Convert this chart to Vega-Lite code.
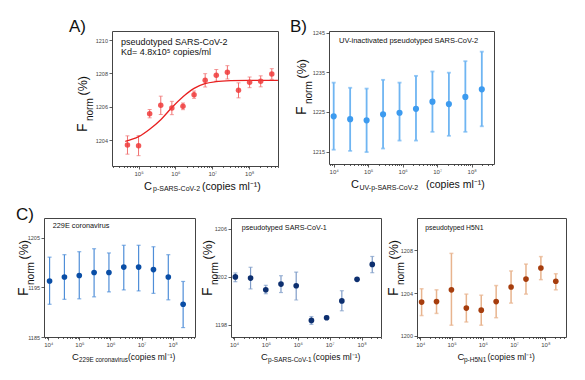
{
"$schema": "https://vega.github.io/schema/vega-lite/v6.json",
"background": "white",
"autosize": {"type": "pad"},
"padding": {"left": 15, "top": 17, "right": 0, "bottom": 0},
"spacing": 12,
"config": {
  "font": "Liberation Sans",
  "view": {"stroke": "#444", "strokeWidth": 1},
  "axis": {"grid": false, "domain": false, "tickColor": "#333", "tickWidth": 0.8, "tickSize": 3, "labelColor": "#444", "labelFontSize": 5.5, "labelPadding": 1.5, "labelOverlap": false, "labelFlush": false, "labelBound": false},
  "axisX": {"labelFontSize": 6},
  "text": {"font": "Liberation Sans", "color": "#111"}
},
"vconcat": [
{
 "hconcat": [
  {"width": 17, "height": 135, "view": {"stroke": null}, "data": {"values": [{}]}, "mark": {"type": "text"}, "encoding": {"text": {"value": ""}}},
  {
   "width": 166, "height": 135,
   "data": {"values": [
    {"conc": 5e4, "f": 1203.7, "lo": 1203.15, "hi": 1204.25},
    {"conc": 1e5, "f": 1203.66, "lo": 1203.06, "hi": 1204.26},
    {"conc": 2e5, "f": 1205.58, "lo": 1205.33, "hi": 1205.83},
    {"conc": 4e5, "f": 1206.08, "lo": 1205.53, "hi": 1206.63},
    {"conc": 8e5, "f": 1205.92, "lo": 1205.52, "hi": 1206.32},
    {"conc": 1.6e6, "f": 1206.02, "lo": 1205.82, "hi": 1206.22},
    {"conc": 3.2e6, "f": 1206.72, "lo": 1206.5, "hi": 1206.94},
    {"conc": 6.4e6, "f": 1207.58, "lo": 1207.18, "hi": 1207.98},
    {"conc": 1.28e7, "f": 1207.88, "lo": 1207.53, "hi": 1208.23},
    {"conc": 2.56e7, "f": 1208.06, "lo": 1207.66, "hi": 1208.46},
    {"conc": 5.12e7, "f": 1206.98, "lo": 1206.53, "hi": 1207.43},
    {"conc": 1.024e8, "f": 1207.46, "lo": 1207.14, "hi": 1207.78},
    {"conc": 2.048e8, "f": 1207.52, "lo": 1207.19, "hi": 1207.85},
    {"conc": 4.096e8, "f": 1207.96, "lo": 1207.64, "hi": 1208.28}
   ]},
   "layer": [
    {"mark": {"type": "errorbar", "color": "#f07070", "thickness": 1, "ticks": {"size": 4}},
     "encoding": {
      "x": {"field": "conc", "type": "quantitative", "scale": {"type": "log", "domain": [19055, 6.03e8], "nice": false},
            "axis": {"title": null, "labelOverlap": false, "values": [2e4,3e4,4e4,5e4,6e4,7e4,8e4,9e4,1e5,2e5,3e5,4e5,5e5,6e5,7e5,8e5,9e5,1e6,2e6,3e6,4e6,5e6,6e6,7e6,8e6,9e6,1e7,2e7,3e7,4e7,5e7,6e7,7e7,8e7,9e7,1e8,2e8,3e8,4e8,5e8,6e8],
              "labelExpr": "abs(log(datum.value)/LN10 - round(log(datum.value)/LN10)) < 0.001 ? '10' + ['⁰','¹','²','³','⁴','⁵','⁶','⁷','⁸','⁹'][round(log(datum.value)/LN10)] : ''",
              "tickSize": {"condition": {"test": "abs(log(datum.value)/LN10 - round(log(datum.value)/LN10)) >= 0.001", "value": 1.5}, "value": 3}}},
      "y": {"field": "lo", "type": "quantitative", "scale": {"domain": [1202.44, 1210.54], "nice": false, "zero": false},
            "axis": {"title": null, "labelOverlap": false, "values": [1204,1206,1208,1210], "format": "d"}},
      "y2": {"field": "hi"}}},
    {"data": {"values": [
      {"conc": 43650, "f": 1203.92}, {"conc": 1e5, "f": 1204.2}, {"conc": 2e5, "f": 1204.65}, {"conc": 4e5, "f": 1205.22},
      {"conc": 8e5, "f": 1205.95}, {"conc": 1.6e6, "f": 1206.6}, {"conc": 3.2e6, "f": 1207.1}, {"conc": 6.3e6, "f": 1207.38},
      {"conc": 1.26e7, "f": 1207.5}, {"conc": 3.16e7, "f": 1207.56}, {"conc": 1e8, "f": 1207.58}, {"conc": 6e8, "f": 1207.58}]},
     "mark": {"type": "line", "interpolate": "monotone", "color": "#e82020", "strokeWidth": 1.3},
     "encoding": {"x": {"field": "conc", "type": "quantitative"}, "y": {"field": "f", "type": "quantitative"}}},
    {"mark": {"type": "point", "filled": true, "size": 30, "color": "#f03a3a", "opacity": 0.85},
     "encoding": {"x": {"field": "conc", "type": "quantitative"}, "y": {"field": "f", "type": "quantitative"}}},
    {"data": {"values": [{}]}, "mark": {"type": "text", "align": "left", "baseline": "alphabetic", "fontSize": 17}, "encoding": {"x": {"datum": 1300, "type": "quantitative"}, "y": {"datum": 1210.48, "type": "quantitative"}, "text": {"value": "A)"}}},
    {"data": {"values": [{}]}, "mark": {"type": "text", "align": "left", "baseline": "alphabetic", "fontSize": 9}, "encoding": {"x": {"datum": 33400, "type": "quantitative"}, "y": {"datum": 1209.7, "type": "quantitative"}, "text": {"value": "pseudotyped SARS-CoV-2"}}},
    {"data": {"values": [{}]}, "mark": {"type": "text", "align": "left", "baseline": "alphabetic", "fontSize": 9}, "encoding": {"x": {"datum": 33400, "type": "quantitative"}, "y": {"datum": 1209.1, "type": "quantitative"}, "text": {"value": "Kd= 4.8x10⁵ copies/ml"}}},
    {"data": {"values": [{}]}, "mark": {"type": "text", "align": "left", "baseline": "alphabetic", "fontSize": 14, "angle": 270}, "encoding": {"x": {"datum": 4000, "type": "quantitative"}, "y": {"datum": 1204.48, "type": "quantitative"}, "text": {"value": "F"}}},
    {"data": {"values": [{}]}, "mark": {"type": "text", "align": "left", "baseline": "alphabetic", "fontSize": 10, "angle": 270}, "encoding": {"x": {"datum": 5821, "type": "quantitative"}, "y": {"datum": 1205.14, "type": "quantitative"}, "text": {"value": "norm"}}},
    {"data": {"values": [{}]}, "mark": {"type": "text", "align": "left", "baseline": "alphabetic", "fontSize": 12.5, "angle": 270}, "encoding": {"x": {"datum": 4000, "type": "quantitative"}, "y": {"datum": 1206.67, "type": "quantitative"}, "text": {"value": "(%)"}}},
    {"data": {"values": [{}]}, "mark": {"type": "text", "align": "left", "baseline": "alphabetic", "fontSize": 11}, "encoding": {"x": {"datum": 140500, "type": "quantitative"}, "y": {"datum": 1201.03, "type": "quantitative"}, "text": {"value": "C"}}},
    {"data": {"values": [{}]}, "mark": {"type": "text", "align": "left", "baseline": "alphabetic", "fontSize": 7}, "encoding": {"x": {"datum": 246400, "type": "quantitative"}, "y": {"datum": 1200.94, "type": "quantitative"}, "text": {"value": "p-SARS-CoV-2"}}},
    {"data": {"values": [{}]}, "mark": {"type": "text", "align": "left", "baseline": "alphabetic", "fontSize": 10.5}, "encoding": {"x": {"datum": 5.25e6, "type": "quantitative"}, "y": {"datum": 1201.03, "type": "quantitative"}, "text": {"value": "(copies ml⁻¹)"}}}
   ]
  },
  {
   "width": 165, "height": 133,
   "data": {"values": [
    {"conc": 1e4, "f": 1223.9, "lo": 1215.5, "hi": 1232.4},
    {"conc": 3e4, "f": 1223.2, "lo": 1215.2, "hi": 1231.1},
    {"conc": 9e4, "f": 1222.9, "lo": 1214.9, "hi": 1230.9},
    {"conc": 2.7e5, "f": 1224.4, "lo": 1215.8, "hi": 1233.1},
    {"conc": 8.1e5, "f": 1224.8, "lo": 1217.8, "hi": 1232.4},
    {"conc": 2.43e6, "f": 1225.8, "lo": 1217.8, "hi": 1234.1},
    {"conc": 7.29e6, "f": 1227.6, "lo": 1220.0, "hi": 1235.2},
    {"conc": 2.187e7, "f": 1227.0, "lo": 1219.0, "hi": 1234.9},
    {"conc": 6.561e7, "f": 1228.8, "lo": 1220.0, "hi": 1237.8},
    {"conc": 1.9683e8, "f": 1230.7, "lo": 1221.4, "hi": 1240.2}
   ]},
   "layer": [
    {"mark": {"type": "errorbar", "color": "#6fb5f2", "thickness": 1.8, "ticks": {"size": 4}},
     "encoding": {
      "x": {"field": "conc", "type": "quantitative", "scale": {"type": "log", "domain": [7311, 4.44e8], "nice": false},
            "axis": {"title": null, "labelOverlap": false, "values": [8e3,9e3,1e4,2e4,3e4,4e4,5e4,6e4,7e4,8e4,9e4,1e5,2e5,3e5,4e5,5e5,6e5,7e5,8e5,9e5,1e6,2e6,3e6,4e6,5e6,6e6,7e6,8e6,9e6,1e7,2e7,3e7,4e7,5e7,6e7,7e7,8e7,9e7,1e8,2e8,3e8,4e8],
              "labelExpr": "abs(log(datum.value)/LN10 - round(log(datum.value)/LN10)) < 0.001 ? '10' + ['⁰','¹','²','³','⁴','⁵','⁶','⁷','⁸','⁹'][round(log(datum.value)/LN10)] : ''",
              "tickSize": {"condition": {"test": "abs(log(datum.value)/LN10 - round(log(datum.value)/LN10)) >= 0.001", "value": 1.5}, "value": 3}}},
      "y": {"field": "lo", "type": "quantitative", "scale": {"domain": [1211.9, 1245.4], "nice": false, "zero": false},
            "axis": {"title": null, "labelOverlap": false, "values": [1215,1220,1225,1230,1235,1240,1245], "format": "d"}},
      "y2": {"field": "hi"}}},
    {"mark": {"type": "point", "filled": true, "size": 38, "color": "#3d9bef", "opacity": 1},
     "encoding": {"x": {"field": "conc", "type": "quantitative"}, "y": {"field": "f", "type": "quantitative"}}},
    {"data": {"values": [{}]}, "mark": {"type": "text", "align": "left", "baseline": "alphabetic", "fontSize": 17}, "encoding": {"x": {"datum": 541, "type": "quantitative"}, "y": {"datum": 1245.15, "type": "quantitative"}, "text": {"value": "B)"}}},
    {"data": {"values": [{}]}, "mark": {"type": "text", "align": "left", "baseline": "alphabetic", "fontSize": 7.5}, "encoding": {"x": {"datum": 14260, "type": "quantitative"}, "y": {"datum": 1242.45, "type": "quantitative"}, "text": {"value": "UV-inactivated pseudotyped SARS-CoV-2"}}},
    {"data": {"values": [{}]}, "mark": {"type": "text", "align": "left", "baseline": "alphabetic", "fontSize": 14, "angle": 270}, "encoding": {"x": {"datum": 1574, "type": "quantitative"}, "y": {"datum": 1224.24, "type": "quantitative"}, "text": {"value": "F"}}},
    {"data": {"values": [{}]}, "mark": {"type": "text", "align": "left", "baseline": "alphabetic", "fontSize": 10, "angle": 270}, "encoding": {"x": {"datum": 2350, "type": "quantitative"}, "y": {"datum": 1227.01, "type": "quantitative"}, "text": {"value": "norm"}}},
    {"data": {"values": [{}]}, "mark": {"type": "text", "align": "left", "baseline": "alphabetic", "fontSize": 12.5, "angle": 270}, "encoding": {"x": {"datum": 1574, "type": "quantitative"}, "y": {"datum": 1233.43, "type": "quantitative"}, "text": {"value": "(%)"}}},
    {"data": {"values": [{}]}, "mark": {"type": "text", "align": "left", "baseline": "alphabetic", "fontSize": 11}, "encoding": {"x": {"datum": 31770, "type": "quantitative"}, "y": {"datum": 1205.85, "type": "quantitative"}, "text": {"value": "C"}}},
    {"data": {"values": [{}]}, "mark": {"type": "text", "align": "left", "baseline": "alphabetic", "fontSize": 7}, "encoding": {"x": {"datum": 55980, "type": "quantitative"}, "y": {"datum": 1205.35, "type": "quantitative"}, "text": {"value": "UV-p-SARS-CoV-2"}}},
    {"data": {"values": [{}]}, "mark": {"type": "text", "align": "left", "baseline": "alphabetic", "fontSize": 10.5}, "encoding": {"x": {"datum": 4.74e6, "type": "quantitative"}, "y": {"datum": 1205.85, "type": "quantitative"}, "text": {"value": "(copies ml⁻¹)"}}}
   ]
  }
 ],
 "spacing": 51,
 "bounds": "flush"
},
{
 "hconcat": [
  {
   "width": 151, "height": 119,
   "data": {"values": [
    {"conc": 1.1e4, "f": 1196.3, "lo": 1191.6, "hi": 1201.1},
    {"conc": 3.3e4, "f": 1197.1, "lo": 1192.6, "hi": 1201.6},
    {"conc": 9.9e4, "f": 1197.4, "lo": 1192.7, "hi": 1202.2},
    {"conc": 2.97e5, "f": 1198.0, "lo": 1193.1, "hi": 1202.8},
    {"conc": 8.91e5, "f": 1198.0, "lo": 1194.1, "hi": 1201.95},
    {"conc": 2.673e6, "f": 1199.1, "lo": 1194.5, "hi": 1203.5},
    {"conc": 8.019e6, "f": 1199.1, "lo": 1194.3, "hi": 1203.5},
    {"conc": 2.4057e7, "f": 1198.6, "lo": 1193.8, "hi": 1203.2},
    {"conc": 7.2171e7, "f": 1197.1, "lo": 1192.5, "hi": 1201.6},
    {"conc": 2.16513e8, "f": 1191.6, "lo": 1186.9, "hi": 1196.2}
   ]},
   "layer": [
    {"mark": {"type": "errorbar", "color": "#4f8ed8", "thickness": 1.2, "ticks": {"size": 4}},
     "encoding": {
      "x": {"field": "conc", "type": "quantitative", "scale": {"type": "log", "domain": [7278, 5.21e8], "nice": false},
            "axis": {"title": null, "labelOverlap": false, "values": [8e3,9e3,1e4,2e4,3e4,4e4,5e4,6e4,7e4,8e4,9e4,1e5,2e5,3e5,4e5,5e5,6e5,7e5,8e5,9e5,1e6,2e6,3e6,4e6,5e6,6e6,7e6,8e6,9e6,1e7,2e7,3e7,4e7,5e7,6e7,7e7,8e7,9e7,1e8,2e8,3e8,4e8,5e8],
              "labelExpr": "abs(log(datum.value)/LN10 - round(log(datum.value)/LN10)) < 0.001 ? '10' + ['⁰','¹','²','³','⁴','⁵','⁶','⁷','⁸','⁹'][round(log(datum.value)/LN10)] : ''",
              "tickSize": {"condition": {"test": "abs(log(datum.value)/LN10 - round(log(datum.value)/LN10)) >= 0.001", "value": 1.5}, "value": 3}}},
      "y": {"field": "lo", "type": "quantitative", "scale": {"domain": [1185, 1209], "nice": false, "zero": false},
            "axis": {"title": null, "labelOverlap": false, "values": [1185,1190,1195,1200,1205], "format": "d"}},
      "y2": {"field": "hi"}}},
    {"mark": {"type": "point", "filled": true, "size": 32, "color": "#0a4ea6", "opacity": 1},
     "encoding": {"x": {"field": "conc", "type": "quantitative"}, "y": {"field": "f", "type": "quantitative"}}},
    {"data": {"values": [{}]}, "mark": {"type": "text", "align": "left", "baseline": "alphabetic", "fontSize": 17}, "encoding": {"x": {"datum": 916, "type": "quantitative"}, "y": {"datum": 1208.6, "type": "quantitative"}, "text": {"value": "C)"}}},
    {"data": {"values": [{}]}, "mark": {"type": "text", "align": "left", "baseline": "alphabetic", "fontSize": 7.3}, "encoding": {"x": {"datum": 13870, "type": "quantitative"}, "y": {"datum": 1206.92, "type": "quantitative"}, "text": {"value": "229E coronavirus"}}},
    {"data": {"values": [{}]}, "mark": {"type": "text", "align": "left", "baseline": "alphabetic", "fontSize": 14, "angle": 270}, "encoding": {"x": {"datum": 2228, "type": "quantitative"}, "y": {"datum": 1193.27, "type": "quantitative"}, "text": {"value": "F"}}},
    {"data": {"values": [{}]}, "mark": {"type": "text", "align": "left", "baseline": "alphabetic", "fontSize": 10, "angle": 270}, "encoding": {"x": {"datum": 3467, "type": "quantitative"}, "y": {"datum": 1195.49, "type": "quantitative"}, "text": {"value": "norm"}}},
    {"data": {"values": [{}]}, "mark": {"type": "text", "align": "left", "baseline": "alphabetic", "fontSize": 12.5, "angle": 270}, "encoding": {"x": {"datum": 2228, "type": "quantitative"}, "y": {"datum": 1200.63, "type": "quantitative"}, "text": {"value": "(%)"}}},
    {"data": {"values": [{}]}, "mark": {"type": "text", "align": "left", "baseline": "alphabetic", "fontSize": 9.5}, "encoding": {"x": {"datum": 57810, "type": "quantitative"}, "y": {"datum": 1180.36, "type": "quantitative"}, "text": {"value": "C"}}},
    {"data": {"values": [{}]}, "mark": {"type": "text", "align": "left", "baseline": "alphabetic", "fontSize": 6.3}, "encoding": {"x": {"datum": 97100, "type": "quantitative"}, "y": {"datum": 1179.96, "type": "quantitative"}, "text": {"value": "229E coronavirus"}}},
    {"data": {"values": [{}]}, "mark": {"type": "text", "align": "left", "baseline": "alphabetic", "fontSize": 8.5}, "encoding": {"x": {"datum": 3.66e6, "type": "quantitative"}, "y": {"datum": 1180.36, "type": "quantitative"}, "text": {"value": "(copies ml⁻¹)"}}}
   ]
  },
  {
   "width": 150, "height": 119,
   "data": {"values": [
    {"conc": 1.1e4, "f": 1202.0, "lo": 1201.6, "hi": 1202.33},
    {"conc": 3.3e4, "f": 1201.9, "lo": 1201.0, "hi": 1202.8},
    {"conc": 9.9e4, "f": 1200.93, "lo": 1200.6, "hi": 1201.3},
    {"conc": 2.97e5, "f": 1201.4, "lo": 1200.7, "hi": 1202.1},
    {"conc": 8.91e5, "f": 1201.26, "lo": 1200.08, "hi": 1202.4},
    {"conc": 2.673e6, "f": 1198.38, "lo": 1198.05, "hi": 1198.7},
    {"conc": 8.019e6, "f": 1198.6, "lo": 1198.47, "hi": 1198.77},
    {"conc": 2.4057e7, "f": 1200.0, "lo": 1199.18, "hi": 1200.85},
    {"conc": 7.2171e7, "f": 1201.8, "lo": 1201.75, "hi": 1201.85},
    {"conc": 2.16513e8, "f": 1203.04, "lo": 1202.35, "hi": 1203.7}
   ]},
   "layer": [
    {"mark": {"type": "errorbar", "color": "#7f9cc8", "thickness": 1.2, "ticks": {"size": 4}},
     "encoding": {
      "x": {"field": "conc", "type": "quantitative", "scale": {"type": "log", "domain": [8035, 4.07e8], "nice": false},
            "axis": {"title": null, "labelOverlap": false, "values": [9e3,1e4,2e4,3e4,4e4,5e4,6e4,7e4,8e4,9e4,1e5,2e5,3e5,4e5,5e5,6e5,7e5,8e5,9e5,1e6,2e6,3e6,4e6,5e6,6e6,7e6,8e6,9e6,1e7,2e7,3e7,4e7,5e7,6e7,7e7,8e7,9e7,1e8,2e8,3e8,4e8],
              "labelExpr": "abs(log(datum.value)/LN10 - round(log(datum.value)/LN10)) < 0.001 ? '10' + ['⁰','¹','²','³','⁴','⁵','⁶','⁷','⁸','⁹'][round(log(datum.value)/LN10)] : ''",
              "tickSize": {"condition": {"test": "abs(log(datum.value)/LN10 - round(log(datum.value)/LN10)) >= 0.001", "value": 1.5}, "value": 3}}},
      "y": {"field": "lo", "type": "quantitative", "scale": {"domain": [1197, 1206.9], "nice": false, "zero": false},
            "axis": {"title": null, "labelOverlap": false, "values": [1198,1200,1202,1204,1206], "format": "d"}},
      "y2": {"field": "hi"}}},
    {"mark": {"type": "point", "filled": true, "size": 32, "color": "#0d2f6f", "opacity": 1},
     "encoding": {"x": {"field": "conc", "type": "quantitative"}, "y": {"field": "f", "type": "quantitative"}}},
    {"data": {"values": [{}]}, "mark": {"type": "text", "align": "left", "baseline": "alphabetic", "fontSize": 7.2}, "encoding": {"x": {"datum": 17400, "type": "quantitative"}, "y": {"datum": 1205.9, "type": "quantitative"}, "text": {"value": "pseudotyped SARS-CoV-1"}}},
    {"data": {"values": [{}]}, "mark": {"type": "text", "align": "left", "baseline": "alphabetic", "fontSize": 14, "angle": 270}, "encoding": {"x": {"datum": 2037, "type": "quantitative"}, "y": {"datum": 1200.41, "type": "quantitative"}, "text": {"value": "F"}}},
    {"data": {"values": [{}]}, "mark": {"type": "text", "align": "left", "baseline": "alphabetic", "fontSize": 10, "angle": 270}, "encoding": {"x": {"datum": 3141, "type": "quantitative"}, "y": {"datum": 1201.33, "type": "quantitative"}, "text": {"value": "norm"}}},
    {"data": {"values": [{}]}, "mark": {"type": "text", "align": "left", "baseline": "alphabetic", "fontSize": 12.5, "angle": 270}, "encoding": {"x": {"datum": 2037, "type": "quantitative"}, "y": {"datum": 1203.45, "type": "quantitative"}, "text": {"value": "(%)"}}},
    {"data": {"values": [{}]}, "mark": {"type": "text", "align": "left", "baseline": "alphabetic", "fontSize": 9.5}, "encoding": {"x": {"datum": 70150, "type": "quantitative"}, "y": {"datum": 1195.09, "type": "quantitative"}, "text": {"value": "C"}}},
    {"data": {"values": [{}]}, "mark": {"type": "text", "align": "left", "baseline": "alphabetic", "fontSize": 6.5}, "encoding": {"x": {"datum": 116400, "type": "quantitative"}, "y": {"datum": 1194.92, "type": "quantitative"}, "text": {"value": "p-SARS-CoV-1"}}},
    {"data": {"values": [{}]}, "mark": {"type": "text", "align": "left", "baseline": "alphabetic", "fontSize": 8.5}, "encoding": {"x": {"datum": 3.0e6, "type": "quantitative"}, "y": {"datum": 1195.09, "type": "quantitative"}, "text": {"value": "(copies ml⁻¹)"}}}
   ]
  },
  {
   "width": 149, "height": 119,
   "data": {"values": [
    {"conc": 1.1e4, "f": 1203.16, "lo": 1201.9, "hi": 1204.4},
    {"conc": 3.3e4, "f": 1203.2, "lo": 1202.1, "hi": 1204.3},
    {"conc": 9.9e4, "f": 1204.3, "lo": 1201.0, "hi": 1207.7},
    {"conc": 2.97e5, "f": 1202.6, "lo": 1201.3, "hi": 1203.9},
    {"conc": 8.91e5, "f": 1202.4, "lo": 1201.0, "hi": 1203.8},
    {"conc": 2.673e6, "f": 1203.2, "lo": 1201.7, "hi": 1204.7},
    {"conc": 8.019e6, "f": 1204.56, "lo": 1203.06, "hi": 1206.06},
    {"conc": 2.4057e7, "f": 1205.3, "lo": 1203.9, "hi": 1206.7},
    {"conc": 7.2171e7, "f": 1206.34, "lo": 1205.25, "hi": 1207.4},
    {"conc": 2.16513e8, "f": 1205.1, "lo": 1204.3, "hi": 1205.8}
   ]},
   "layer": [
    {"mark": {"type": "errorbar", "color": "#e8b48e", "thickness": 1.5, "ticks": {"size": 4}},
     "encoding": {
      "x": {"field": "conc", "type": "quantitative", "scale": {"type": "log", "domain": [7834, 4.59e8], "nice": false},
            "axis": {"title": null, "labelOverlap": false, "values": [8e3,9e3,1e4,2e4,3e4,4e4,5e4,6e4,7e4,8e4,9e4,1e5,2e5,3e5,4e5,5e5,6e5,7e5,8e5,9e5,1e6,2e6,3e6,4e6,5e6,6e6,7e6,8e6,9e6,1e7,2e7,3e7,4e7,5e7,6e7,7e7,8e7,9e7,1e8,2e8,3e8,4e8],
              "labelExpr": "abs(log(datum.value)/LN10 - round(log(datum.value)/LN10)) < 0.001 ? '10' + ['⁰','¹','²','³','⁴','⁵','⁶','⁷','⁸','⁹'][round(log(datum.value)/LN10)] : ''",
              "tickSize": {"condition": {"test": "abs(log(datum.value)/LN10 - round(log(datum.value)/LN10)) >= 0.001", "value": 1.5}, "value": 3}}},
      "y": {"field": "lo", "type": "quantitative", "scale": {"domain": [1199.9, 1211.0], "nice": false, "zero": false},
            "axis": {"title": null, "labelOverlap": false, "values": [1200,1202,1204,1206,1208,1210], "format": "d"}},
      "y2": {"field": "hi"}}},
    {"mark": {"type": "point", "filled": true, "size": 32, "color": "#a63d0d", "opacity": 1},
     "encoding": {"x": {"field": "conc", "type": "quantitative"}, "y": {"field": "f", "type": "quantitative"}}},
    {"data": {"values": [{}]}, "mark": {"type": "text", "align": "left", "baseline": "alphabetic", "fontSize": 6.8}, "encoding": {"x": {"datum": 14450, "type": "quantitative"}, "y": {"datum": 1209.88, "type": "quantitative"}, "text": {"value": "pseudotyped H5N1"}}},
    {"data": {"values": [{}]}, "mark": {"type": "text", "align": "left", "baseline": "alphabetic", "fontSize": 14, "angle": 270}, "encoding": {"x": {"datum": 1932, "type": "quantitative"}, "y": {"datum": 1203.72, "type": "quantitative"}, "text": {"value": "F"}}},
    {"data": {"values": [{}]}, "mark": {"type": "text", "align": "left", "baseline": "alphabetic", "fontSize": 10, "angle": 270}, "encoding": {"x": {"datum": 3006, "type": "quantitative"}, "y": {"datum": 1204.75, "type": "quantitative"}, "text": {"value": "norm"}}},
    {"data": {"values": [{}]}, "mark": {"type": "text", "align": "left", "baseline": "alphabetic", "fontSize": 12.5, "angle": 270}, "encoding": {"x": {"datum": 1932, "type": "quantitative"}, "y": {"datum": 1207.13, "type": "quantitative"}, "text": {"value": "(%)"}}},
    {"data": {"values": [{}]}, "mark": {"type": "text", "align": "left", "baseline": "alphabetic", "fontSize": 9.5}, "encoding": {"x": {"datum": 154900, "type": "quantitative"}, "y": {"datum": 1197.75, "type": "quantitative"}, "text": {"value": "C"}}},
    {"data": {"values": [{}]}, "mark": {"type": "text", "align": "left", "baseline": "alphabetic", "fontSize": 6.5}, "encoding": {"x": {"datum": 250000, "type": "quantitative"}, "y": {"datum": 1197.57, "type": "quantitative"}, "text": {"value": "p-H5N1"}}},
    {"data": {"values": [{}]}, "mark": {"type": "text", "align": "left", "baseline": "alphabetic", "fontSize": 8.5}, "encoding": {"x": {"datum": 1.413e6, "type": "quantitative"}, "y": {"datum": 1197.75, "type": "quantitative"}, "text": {"value": "(copies ml⁻¹)"}}}
   ]
  }
 ],
 "spacing": 36,
 "bounds": "flush"
}
]
}
